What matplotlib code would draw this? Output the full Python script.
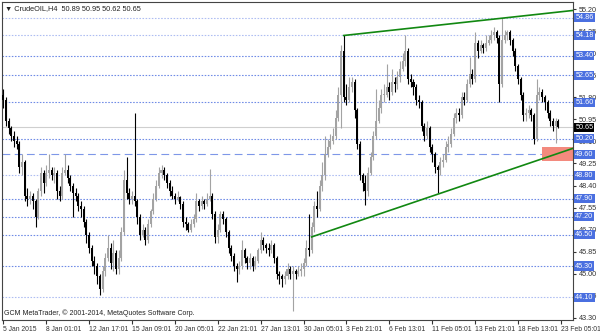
import matplotlib
matplotlib.use("Agg")
import matplotlib.pyplot as plt
from matplotlib.patches import Rectangle

chart_title = "\u25bc CrudeOIL,H4  50.89 50.95 50.62 50.65"
copyright_text = "GCM MetaTrader, \u00a9 2001-2014, MetaQuotes Software Corp."

# H4 bars (open of each bar = close of the previous one)
first_open = 51.9
closes = [
    51.7, 50.9, 50.6, 50.3, 50.1, 50.0, 49.1, 49.3, 48.0, 47.9, 48.0, 47.8, 47.2, 48.2, 48.9, 48.5,
    48.9, 49.0, 48.8, 48.9, 48.2, 48.0, 48.9, 49.0, 48.7, 48.4, 48.1, 48.0, 47.6, 47.5, 47.0, 46.5,
    46.0, 45.5, 45.3, 44.9, 44.4, 45.1, 45.6, 46.0, 45.4, 45.8, 45.2, 45.6, 46.6, 48.6, 48.1, 47.9,
    48.0, 47.8, 47.2, 46.5, 46.7, 46.3, 46.9, 47.4, 47.9, 48.4, 48.9, 49.0, 48.8, 48.5, 48.2, 48.0,
    47.9, 47.95, 47.7, 47.0, 46.9, 46.7, 46.9, 47.1, 47.8, 47.6, 47.8, 47.7, 47.9, 48.0, 47.3, 46.4,
    46.7, 47.3, 47.1, 46.6, 46.0, 45.7, 45.3, 45.2, 45.3, 45.9, 45.6, 45.4, 45.6, 45.3, 45.5, 45.9,
    46.3, 46.1, 46.0, 45.9, 46.1, 45.6, 45.0, 44.9, 44.8, 44.9, 45.2, 45.0, 45.1, 45.0, 45.1, 45.2,
    45.4, 46.0, 45.9, 46.8, 47.6, 47.5, 48.4, 48.8, 49.6, 49.9, 50.1, 50.3, 51.0, 51.9, 53.6, 51.8,
    51.7, 52.2, 52.4, 51.3, 50.0, 48.8, 48.5, 48.2, 48.9, 49.5, 50.3, 50.9, 51.4, 51.9, 51.9, 52.2,
    52.0, 52.4, 52.3, 52.6, 52.9, 53.2, 53.6, 52.5, 52.4, 52.2, 51.7, 51.6, 50.7, 50.3, 50.6, 49.9,
    49.6, 49.1, 49.0, 49.3, 49.4, 49.9, 50.0, 50.4, 51.0, 51.2, 51.1, 51.8, 51.7, 52.3, 52.7, 52.5,
    53.9, 53.6, 53.8, 53.7, 53.9, 54.0, 54.2, 54.3, 54.1, 52.3, 54.0, 54.2, 54.3, 54.0, 53.6, 53.0,
    52.5, 51.9, 51.1, 51.2, 51.3, 51.1, 50.2, 51.9, 52.0, 51.8, 51.6, 51.2, 50.9, 50.7, 50.89, 50.65,
]
highs = [
    52.1, 51.8, 51.0, 50.7, 50.5, 50.3, 50.1, 49.6, 49.4, 48.3, 48.2, 48.1, 47.9, 48.3, 49.1, 49.0,
    49.2, 49.6, 49.1, 49.1, 49.0, 48.4, 49.1, 49.6, 49.2, 48.8, 48.5, 48.3, 48.1, 47.8, 47.6, 47.1,
    46.6, 46.1, 45.7, 45.4, 45.0, 45.3, 45.8, 46.5, 46.2, 46.3, 45.9, 45.9, 46.8, 49.0, 49.5, 48.3,
    48.2, 51.2, 47.9, 47.3, 46.9, 46.8, 47.1, 47.5, 48.1, 48.6, 49.1, 49.2, 49.1, 48.9, 48.6, 48.4,
    48.1, 48.2, 48.0, 47.8, 47.2, 47.0, 47.1, 47.3, 48.1, 47.9, 48.0, 47.9, 48.1, 49.05, 48.1, 47.4,
    46.9, 47.4, 47.4, 47.2, 46.7, 46.1, 45.8, 45.4, 45.5, 46.3, 46.0, 45.7, 45.8, 45.7, 45.7, 46.0,
    46.6, 46.4, 46.2, 46.2, 46.3, 46.2, 45.7, 45.1, 45.0, 45.1, 45.4, 45.3, 45.3, 45.2, 45.3, 45.4,
    45.6, 46.3, 47.3, 47.0, 47.8, 48.2, 48.6, 49.3, 50.3, 50.2, 50.4, 50.6, 51.3, 52.2, 53.8, 54.18,
    52.3, 52.6, 52.6, 52.5, 51.4, 50.1, 48.9, 48.8, 49.1, 49.7, 50.5, 52.1, 51.7, 52.1, 52.3, 53.1,
    52.4, 52.9, 52.6, 52.8, 53.2, 53.5, 54.2, 53.7, 52.7, 52.5, 52.3, 51.9, 51.7, 50.8, 50.9, 50.7,
    50.0, 49.7, 49.2, 49.5, 49.6, 50.1, 50.3, 50.6, 51.2, 51.4, 51.4, 52.0, 52.0, 52.5, 53.35, 52.9,
    54.3, 54.0, 54.0, 53.9, 54.2, 54.2, 54.4, 54.5, 54.4, 54.2, 54.86, 54.4, 54.4, 54.4, 54.1, 53.7,
    53.1, 52.6, 52.0, 51.4, 51.5, 51.4, 51.2, 52.5, 52.2, 52.1, 51.9, 51.7, 51.3, 51.0, 51.0, 50.95,
]
lows = [
    51.4, 50.7, 50.4, 50.1, 49.9, 49.8, 48.9, 48.8, 47.8, 47.6, 47.7, 47.5, 46.8, 47.1, 48.0, 48.1,
    48.4, 48.7, 48.6, 48.5, 47.9, 47.8, 47.9, 48.8, 48.5, 48.2, 47.2, 47.8, 47.4, 47.2, 46.8, 46.2,
    45.8, 45.3, 45.0, 44.6, 44.2, 44.3, 44.9, 45.5, 45.2, 45.1, 45.0, 45.0, 45.5, 46.5, 47.9, 47.7,
    47.7, 47.6, 46.9, 46.3, 46.4, 46.1, 46.2, 46.8, 47.3, 47.8, 48.3, 48.7, 48.6, 48.3, 48.0, 47.9,
    47.7, 47.8, 47.5, 46.8, 46.7, 46.6, 46.6, 46.8, 47.0, 47.4, 47.5, 47.5, 47.6, 47.8, 47.1, 46.2,
    46.2, 46.6, 46.9, 46.4, 45.8, 45.5, 45.1, 44.7, 45.0, 45.2, 45.4, 45.2, 45.2, 45.1, 45.2, 45.4,
    45.8, 45.9, 45.8, 45.7, 45.8, 45.4, 44.8, 44.6, 44.5, 44.6, 44.8, 44.8, 43.55, 44.8, 44.9, 44.9,
    44.9, 45.3, 45.7, 45.8, 46.6, 47.2, 47.4, 48.2, 48.6, 49.5, 49.8, 50.0, 50.2, 50.9, 50.6, 51.6,
    51.5, 51.6, 52.0, 51.0, 49.8, 48.6, 48.2, 47.65, 48.0, 48.8, 49.4, 50.2, 50.8, 51.2, 51.6, 51.8,
    51.7, 51.9, 52.0, 52.1, 52.4, 52.8, 53.0, 52.3, 52.2, 51.9, 51.5, 51.4, 50.5, 50.1, 50.2, 49.7,
    49.3, 48.9, 48.12, 48.8, 49.1, 49.3, 49.7, 49.9, 50.3, 50.8, 50.9, 51.0, 51.5, 51.6, 52.2, 52.3,
    52.4, 53.3, 53.5, 53.5, 53.6, 53.8, 53.9, 54.0, 53.9, 51.6, 52.2, 53.9, 54.0, 53.8, 53.4, 52.8,
    52.3, 51.7, 50.9, 50.9, 51.0, 50.9, 50.0, 50.1, 51.7, 51.6, 51.3, 51.0, 50.7, 50.5, 50.05, 50.62,
]

date_labels = ["5 Jan 2015", "8 Jan 01:01", "12 Jan 17:01", "15 Jan 09:01", "20 Jan 05:01",
               "22 Jan 21:01", "27 Jan 13:01", "30 Jan 05:01", "3 Feb 21:01", "6 Feb 13:01",
               "11 Feb 05:01", "13 Feb 21:01", "18 Feb 13:01", "23 Feb 05:01"]
axis_prices = [55.20, 54.35, 53.50, 52.65, 51.80, 50.95, 50.10, 49.25, 48.40, 47.55,
               46.70, 45.85, 45.00, 44.15, 43.30]
level_prices = [54.86, 54.18, 53.40, 52.65, 51.60, 50.20, 48.80, 47.90, 47.20, 46.50, 45.30, 44.10]
dashed_level = 49.60
last_price = 50.65

upper_trend_bars = [127, 213]
upper_trend_prices = [54.18, 55.15]
lower_trend_bars = [115, 213]
lower_trend_prices = [46.42, 49.85]
zone_bars = [201, 213]
zone_prices = [49.35, 49.89]

plt.rcParams["font.family"] = ["Liberation Sans", "DejaVu Sans"]

fig = plt.figure(figsize=(6, 3.33), dpi=100)
ax = fig.add_axes([2 / 600, 13 / 333, 571 / 600, 318 / 333])

opens = [first_open] + closes[:-1]
bull_color = "#a3a3a3"
bear_color = "#000000"
for i, (o, h, l, c) in enumerate(zip(opens, highs, lows, closes)):
    col = bull_color if c >= o else bear_color
    ax.vlines(i, l, h, color=col, lw=0.8, zorder=3)
    ax.bar(i, max(abs(c - o), 0.03), bottom=min(o, c), width=0.75, color=col, zorder=3)

# horizontal levels
light_levels = [54.86, 54.18, 48.80, 44.10]
for p in level_prices:
    col = "#aebdf2" if p in light_levels else "#6f8be6"
    ax.axhline(p, color=col, lw=0.8, dashes=(1.4, 1.4), zorder=1)
ax.axhline(dashed_level, color="#7e97e8", lw=0.8, dashes=(7, 4), zorder=1)
ax.axhline(last_price, color="#cfcfcf", lw=0.8, zorder=1)

# support / resistance
ax.add_patch(Rectangle((zone_bars[0], zone_prices[0]), zone_bars[1] - zone_bars[0],
                       zone_prices[1] - zone_prices[0], fc="#f38a7e", ec="none", zorder=2))
ax.plot(upper_trend_bars, upper_trend_prices, color="#118811", lw=1.2, zorder=4)
ax.plot(lower_trend_bars, lower_trend_prices, color="#118811", lw=1.2, zorder=4)

ax.set_xlim(-0.5, 212.5)
ax.set_ylim(43.22, 55.47)

ax.yaxis.tick_right()
ax.set_yticks(axis_prices)
ax.set_yticklabels([f"{p:.2f}" for p in axis_prices])
ax.tick_params(axis="y", labelsize=5.2, length=2, pad=2, colors="#333333")
ax.set_xticks(range(0, 16 * len(date_labels), 16))
ax.set_xticklabels(date_labels)
ax.tick_params(axis="x", labelsize=4.9, length=3, pad=1, colors="#333333")
for lbl in ax.get_xticklabels():
    lbl.set_ha("left")
for s in ax.spines.values():
    s.set_color("#444444")
    s.set_linewidth(0.8)

# price tags on the right scale
ytr = ax.get_yaxis_transform()
for p in level_prices + [dashed_level]:
    ax.text(1.004, p, f"{p:.2f}", transform=ytr, fontsize=5.2, color="white", va="center",
            ha="left", clip_on=False, zorder=6,
            bbox=dict(boxstyle="square,pad=0.15", fc="#4a6fe0", ec="none"))
ax.text(1.004, last_price, f"{last_price:.2f}", transform=ytr, fontsize=5.2, color="white",
        va="center", ha="left", clip_on=False, zorder=6,
        bbox=dict(boxstyle="square,pad=0.15", fc="black", ec="none"))

ax.text(0.006, 0.99, chart_title, transform=ax.transAxes, fontsize=5.3, va="top", ha="left",
        color="#222222")
ax.text(0.004, 0.01, copyright_text, transform=ax.transAxes, fontsize=5, va="bottom",
        ha="left", color="#222222")

fig.savefig("out.png", dpi=100)
